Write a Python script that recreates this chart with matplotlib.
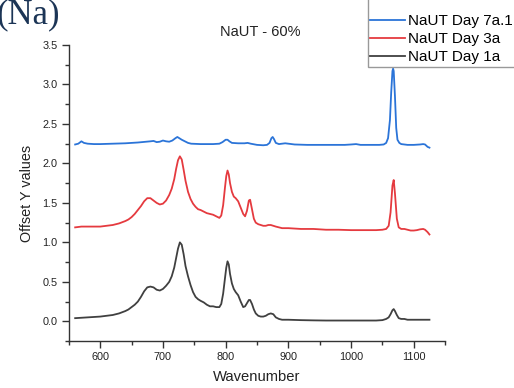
import matplotlib
matplotlib.use("Agg")
import matplotlib.pyplot as plt
from matplotlib.ticker import MultipleLocator
from matplotlib.patches import Rectangle

plt.rcParams['font.family'] = ['Liberation Sans', 'DejaVu Sans']

title = "NaUT - 60%"
xlabel = "Wavenumber"
ylabel = "Offset Y values"
labels = ["NaUT Day 7a.1", "NaUT Day 3a", "NaUT Day 1a"]
colors = ["#2b74d8", "#e53a3f", "#404040"]

x_day1 = [560, 570, 580, 590, 600, 610, 620, 630, 640, 645, 650, 655, 660, 665, 670, 675, 680, 685,
          690, 695, 700, 705, 710, 714, 718, 721, 724, 727, 730, 733, 736, 740, 744, 748, 752, 756,
          760, 765, 770, 775, 780, 785, 790, 793, 796, 799, 801, 803, 805, 807, 810, 813, 816, 820,
          824, 828, 831, 834, 837, 839, 842, 845, 848, 852, 856, 860, 864, 868, 872, 876, 880, 885,
          890, 900, 920, 940, 960, 980, 1000, 1020, 1040, 1050, 1056, 1060, 1063, 1066, 1068, 1070,
          1073, 1076, 1080, 1085, 1090, 1095, 1100, 1110, 1120, 1125]
y_day1 = [0.04, 0.045, 0.05, 0.055, 0.06, 0.07, 0.08, 0.10, 0.13, 0.15, 0.18, 0.21, 0.25, 0.31, 0.38,
          0.43, 0.44, 0.43, 0.40, 0.39, 0.41, 0.45, 0.50, 0.57, 0.68, 0.80, 0.92, 1.00, 0.97, 0.85,
          0.70, 0.57, 0.46, 0.37, 0.31, 0.28, 0.26, 0.24, 0.21, 0.19, 0.19, 0.18, 0.18, 0.22, 0.35,
          0.55, 0.68, 0.76, 0.72, 0.60, 0.48, 0.41, 0.37, 0.33, 0.25, 0.18, 0.19, 0.23, 0.27, 0.27,
          0.22, 0.15, 0.10, 0.07, 0.06, 0.06, 0.07, 0.09, 0.10, 0.09, 0.05, 0.03, 0.02, 0.02, 0.015,
          0.012, 0.01, 0.01, 0.01, 0.01, 0.01, 0.015, 0.03, 0.05, 0.09, 0.14, 0.155, 0.13, 0.08, 0.04,
          0.03, 0.03, 0.02, 0.02, 0.02, 0.02, 0.02, 0.02]

x_day3 = [560, 570, 580, 590, 600, 610, 620, 630, 640, 645, 650, 655, 660, 665, 670, 675, 680, 685,
          690, 695, 700, 705, 710, 714, 718, 721, 724, 727, 730, 733, 736, 740, 744, 748, 752, 756,
          760, 765, 770, 775, 780, 785, 790, 793, 796, 799, 801, 803, 805, 807, 810, 813, 816, 820,
          824, 828, 831, 834, 837, 839, 842, 845, 848, 852, 856, 860, 864, 868, 872, 876, 880, 885,
          890, 900, 920, 940, 960, 980, 1000, 1020, 1040, 1050, 1056, 1060, 1063, 1066, 1068, 1070,
          1073, 1076, 1080, 1085, 1090, 1095, 1100, 1105, 1110, 1115, 1118, 1122, 1125]
y_day3 = [1.19, 1.20, 1.20, 1.20, 1.20, 1.21, 1.22, 1.24, 1.27, 1.29, 1.32, 1.36, 1.41, 1.46, 1.52,
          1.56, 1.56, 1.53, 1.50, 1.48, 1.49, 1.53, 1.60, 1.68, 1.80, 1.93, 2.04, 2.09, 2.05, 1.92,
          1.78, 1.64, 1.55, 1.49, 1.45, 1.42, 1.41, 1.39, 1.37, 1.36, 1.35, 1.33, 1.31, 1.34, 1.47,
          1.70, 1.84, 1.91, 1.86, 1.75, 1.64, 1.58, 1.56, 1.52, 1.44, 1.36, 1.33, 1.40, 1.53, 1.54,
          1.42, 1.30, 1.25, 1.23, 1.22, 1.21, 1.21, 1.22, 1.22, 1.21, 1.20, 1.19, 1.18, 1.18, 1.17,
          1.17, 1.16, 1.16, 1.155, 1.155, 1.155, 1.16, 1.17, 1.21, 1.38, 1.72, 1.79, 1.62, 1.30, 1.19,
          1.17, 1.17, 1.16, 1.15, 1.15, 1.155, 1.165, 1.17, 1.16, 1.13, 1.10]

x_day7 = [560, 565, 570, 574, 580, 590, 600, 620, 640, 660, 680, 685, 690, 695, 700, 705, 710, 715,
          720, 723, 726, 730, 735, 740, 745, 760, 780, 790, 795, 800, 803, 806, 810, 820, 830, 835,
          840, 850, 860, 866, 870, 873, 875, 877, 880, 885, 890, 895, 900, 910, 930, 950, 970, 990,
          1000, 1008, 1015, 1030, 1045, 1052, 1056, 1059, 1062, 1064, 1066, 1067, 1068, 1070, 1072,
          1074, 1077, 1080, 1090, 1100, 1110, 1115, 1118, 1122, 1125]
y_day7 = [2.24, 2.25, 2.28, 2.26, 2.25, 2.245, 2.245, 2.25, 2.255, 2.265, 2.28, 2.285, 2.27, 2.275,
          2.29, 2.28, 2.275, 2.29, 2.32, 2.335, 2.32, 2.30, 2.28, 2.26, 2.25, 2.245, 2.245, 2.25,
          2.27, 2.30, 2.30, 2.28, 2.26, 2.255, 2.255, 2.26, 2.25, 2.235, 2.23, 2.235, 2.26, 2.32,
          2.335, 2.31, 2.26, 2.245, 2.25, 2.255, 2.25, 2.24, 2.235, 2.235, 2.235, 2.235, 2.24, 2.245,
          2.235, 2.235, 2.235, 2.24, 2.26, 2.32, 2.55, 2.90, 3.17, 3.20, 3.17, 2.85, 2.45, 2.30,
          2.26, 2.245, 2.235, 2.235, 2.24, 2.245, 2.24, 2.21, 2.20]

W, H = 514, 388
fig = plt.figure(figsize=(W / 100, H / 100), dpi=100)
ax = fig.add_axes([0.134, 0.121, 0.732, 0.763])

ax.plot(x_day7, y_day7, color=colors[0], lw=1.3, label=labels[0])
ax.plot(x_day3, y_day3, color=colors[1], lw=1.3, label=labels[1])
ax.plot(x_day1, y_day1, color=colors[2], lw=1.3, label=labels[2])

ax.set_xlim(550, 1150)
ax.set_ylim(-0.25, 3.5)
ax.xaxis.set_major_locator(MultipleLocator(100))
ax.xaxis.set_minor_locator(MultipleLocator(50))
ax.yaxis.set_minor_locator(MultipleLocator(0.25))
ax.set_yticks([0, 0.5, 1.0, 1.5, 2.0, 2.5, 3.0, 3.5])
ax.set_yticklabels(["0.0", "0.5", "1.0", "1.5", "2.0", "2.5", "3.0", "3.5"])

for s in ["top", "right"]:
    ax.spines[s].set_visible(False)
for s in ["left", "bottom"]:
    ax.spines[s].set_color("#333333")
    ax.spines[s].set_linewidth(1.0)
ax.tick_params(which="major", direction="out", length=5, width=1, color="#333333",
               labelsize=7.8, labelcolor="#222222", pad=3)
ax.tick_params(which="minor", direction="out", length=3, width=1, color="#333333")

ax.set_xlabel(xlabel, fontsize=10.6, color="#222222", labelpad=6)
ax.set_ylabel(ylabel, fontsize=10.4, color="#222222", labelpad=6)
fig.text(0.507, 0.917, title, ha="center", va="center", fontsize=10.5, color="#222222")

fig.text(-0.006, 1 - 23 / H, "(Na)", ha="left", va="baseline", fontsize=25, color="#1c3556",
         family=["Liberation Serif", "DejaVu Serif"])

# legend frame drawn as a figure rectangle, legend entries placed inside
frame = Rectangle((368 / W, 1 - 67 / H), (W - 368) / W + 0.02, 67 / H + 0.02,
                  transform=fig.transFigure, facecolor="white", edgecolor="#999999",
                  linewidth=1.0, zorder=5)
fig.patches.append(frame)
leg = ax.legend(loc="upper left", bbox_to_anchor=(370 / W, 1 - 14 / H),
                bbox_transform=fig.transFigure,
                fontsize=11, frameon=False, handlelength=2.3, handletextpad=0.2,
                labelspacing=0.26, borderpad=0, borderaxespad=0)
leg.set_zorder(6)
leg.set_figure(fig)
ax.legend_ = None
fig.legends.append(leg)

fig.savefig("out.png", dpi=100)
